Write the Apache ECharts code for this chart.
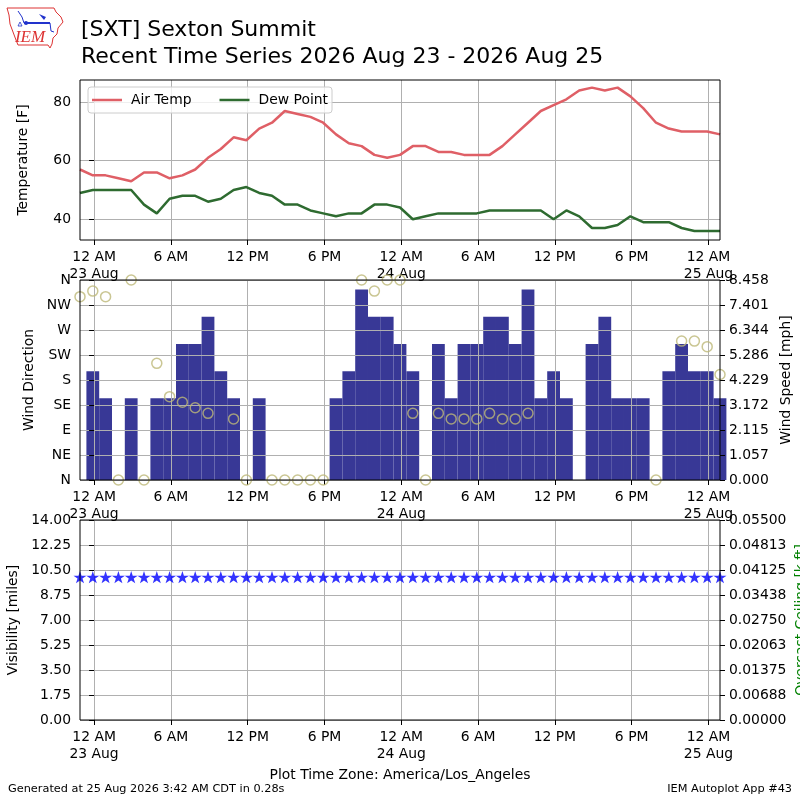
<!DOCTYPE html>
<html lang="en">
<head>
<meta charset="UTF-8">
<title>[SXT] Sexton Summit Recent Time Series</title>
<script src="https://cdn.jsdelivr.net/npm/echarts@6.0.0/dist/echarts.min.js"></script>
<style>
  html, body { margin: 0; padding: 0; background: #fff; }
  #main { width: 800px; height: 800px; }
</style>
</head>
<body>
<div id="main"></div>
<script>
// observation times, hours after 23 Aug 2026 00:00 (America/Los_Angeles)
const obsHours = [-1.1, -0.1, 0.9, 1.9, 2.9, 3.9, 4.9, 5.9, 6.9, 7.9,
  8.9, 9.9, 10.9, 11.9, 12.9, 13.9, 14.9, 15.9, 16.9, 17.9,
  18.9, 19.9, 20.9, 21.9, 22.9, 23.9, 24.9, 25.9, 26.9, 27.9,
  28.9, 29.9, 30.9, 31.9, 32.9, 33.9, 34.9, 35.9, 36.9, 37.9,
  38.9, 39.9, 40.9, 41.9, 42.9, 43.9, 44.9, 45.9, 46.9, 47.9, 48.9];

const airTemp = [57, 55, 55, 54, 53, 56, 56, 54, 55, 57,
  61, 64, 68, 67, 71, 73, 77, 76, 75, 73,
  69, 66, 65, 62, 61, 62, 65, 65, 63, 63,
  62, 62, 62, 65, 69, 73, 77, 79, 81, 84,
  85, 84, 85, 82, 78, 73, 71, 70, 70, 70, 69];

const dewPoint = [49, 50, 50, 50, 50, 45, 42, 47, 48, 48,
  46, 47, 50, 51, 49, 48, 45, 45, 43, 42,
  41, 42, 42, 45, 45, 44, 40, 41, 42, 42,
  42, 42, 43, 43, 43, 43, 43, 40, 43, 41,
  37, 37, 38, 41, 39, 39, 39, 37, 36, 36, 36];

// degrees, null = variable / missing
const windDir = [330, 340, 330, 0, 360, 0, 210, 150, 140, 130,
  120, null, 110, 0, null, 0, 0, 0, 0, 0,
  null, null, 360, 340, 360, 360, 120, 0, 120, 110,
  110, 110, 120, 110, 110, 120, null, null, null, null,
  null, null, null, null, null, 0, null, 250, 250, 240, 190];

// mph
const windSpeed = [0, 4.603, 3.452, 0, 3.452, 0, 3.452, 3.452, 5.754, 5.754,
  6.905, 4.603, 3.452, 0, 3.452, 0, 0, 0, 0, 0,
  3.452, 4.603, 8.055, 6.905, 6.905, 5.754, 4.603, 0, 5.754, 3.452,
  5.754, 5.754, 6.905, 6.905, 5.754, 8.055, 3.452, 4.603, 3.452, 0,
  5.754, 6.905, 3.452, 3.452, 3.452, 0, 4.603, 5.754, 4.603, 4.603, 3.452];

// miles
const visibility = [10, 10, 10, 10, 10, 10, 10, 10, 10, 10,
  10, 10, 10, 10, 10, 10, 10, 10, 10, 10,
  10, 10, 10, 10, 10, 10, 10, 10, 10, 10,
  10, 10, 10, 10, 10, 10, 10, 10, 10, 10,
  10, 10, 10, 10, 10, 10, 10, 10, 10, 10, 10];

const xTickHours = [0, 6, 12, 18, 24, 30, 36, 42, 48];
const xTickLabels = ['12 AM\n23 Aug', '6 AM', '12 PM', '6 PM', '12 AM\n24 Aug',
  '6 AM', '12 PM', '6 PM', '12 AM\n25 Aug'];
const tempTicks = [40, 60, 80];
const dirTickLabels = ['N', 'NE', 'E', 'SE', 'S', 'SW', 'W', 'NW', 'N'];
const speedTickLabels = ['0.000', '1.057', '2.115', '3.172', '4.229', '5.286', '6.344', '7.401', '8.458'];
const ceilTickLabels = ['0.00000', '0.00688', '0.01375', '0.02063', '0.02750',
  '0.03438', '0.04125', '0.04813', '0.05500'];

const FONT = 'DejaVu Sans';
const FS = 13.9;
const starPath = 'path://M50,0L61.23,34.55L97.55,34.55L68.17,55.9L79.39,90.45L50,69.1L20.61,90.45L31.83,55.9L2.45,34.55L38.77,34.55Z';

const xMin = obsHours[0];
const xMax = obsHours[obsHours.length - 1];

function pairs(values) {
  const out = [];
  obsHours.forEach((t, i) => {
    if (values[i] !== null) out.push([t, values[i]]);
  });
  return out;
}

function timeAxis(gridIndex) {
  return {
    type: 'value', gridIndex: gridIndex, min: xMin, max: xMax, z: 3,
    axisLine: { show: false },
    axisTick: { show: true, length: 5, lineStyle: { color: '#000' }, customValues: xTickHours },
    axisLabel: {
      customValues: xTickHours, margin: 9, color: '#000', fontFamily: FONT, fontSize: FS, lineHeight: 17,
      formatter: v => xTickLabels[Math.round(v / 6)]
    },
    splitLine: { show: true, lineStyle: { color: '#b0b0b0', width: 1 } }
  };
}

function valueAxis(opts) {
  return Object.assign({
    type: 'value', z: 3,
    axisLine: { show: false },
    axisTick: { show: true, length: 5, lineStyle: { color: '#000' } },
    nameLocation: 'middle', nameRotate: 90,
    nameTextStyle: { color: '#000', fontFamily: FONT, fontSize: FS },
    splitLine: { show: true, lineStyle: { color: '#b0b0b0', width: 1 } }
  }, opts, {
    axisLabel: Object.assign({ color: '#000', fontFamily: FONT, fontSize: FS, margin: 9 }, opts.axisLabel || {})
  });
}

const gridBase = { left: 80, right: 80, show: true, borderColor: '#000', borderWidth: 1, z: 5,
  backgroundColor: 'rgba(0,0,0,0)', outerBoundsMode: 'none', containLabel: false };

const chart = echarts.init(document.getElementById('main'), null, { renderer: 'canvas' });

const option = {
  animation: false,
  backgroundColor: '#fff',
  textStyle: { fontFamily: FONT },
  title: {
    text: '[SXT] Sexton Summit\nRecent Time Series 2026 Aug 23 - 2026 Aug 25',
    left: 81, top: 16.5, padding: 0,
    textStyle: { fontFamily: FONT, fontSize: 22, fontWeight: 'normal', lineHeight: 27, color: '#000' }
  },
  legend: {
    data: ['Air Temp', 'Dew Point'],
    left: 88, top: 87, icon: 'rect', itemWidth: 30, itemHeight: 2.5, itemGap: 28,
    padding: [6, 4, 6, 4],
    backgroundColor: 'rgba(255,255,255,0.8)', borderColor: '#cccccc', borderWidth: 1, borderRadius: 3,
    textStyle: { fontFamily: FONT, fontSize: FS, color: '#000', padding: [0, 0, 0, 4] }
  },
  grid: [
    Object.assign({ top: 80, height: 160 }, gridBase),
    Object.assign({ top: 280, height: 200 }, gridBase),
    Object.assign({ top: 520, height: 200 }, gridBase)
  ],
  xAxis: [timeAxis(0), timeAxis(1), timeAxis(2)],
  yAxis: [
    valueAxis({
      gridIndex: 0, position: 'left', min: 32.9, max: 87.6,
      name: 'Temperature [F]', nameGap: 50,
      axisTick: { show: true, length: 5, lineStyle: { color: '#000' }, customValues: tempTicks },
      axisLabel: { customValues: tempTicks }
    }),
    valueAxis({
      gridIndex: 1, position: 'left', min: 0, max: 360, interval: 45,
      name: 'Wind Direction', nameGap: 35,
      axisLabel: { formatter: v => dirTickLabels[Math.round(v / 45)] }
    }),
    valueAxis({
      gridIndex: 1, position: 'right', min: 0, max: 8.458, interval: 1.05725,
      name: 'Wind Speed [mph]', nameGap: 52,
      splitLine: { show: false },
      axisLabel: { formatter: v => speedTickLabels[Math.round(v / 1.05725)] }
    }),
    valueAxis({
      gridIndex: 2, position: 'left', min: 0, max: 14, interval: 1.75,
      name: 'Visibility [miles]', nameGap: 51,
      axisLabel: { formatter: v => v.toFixed(2) }
    }),
    valueAxis({
      gridIndex: 2, position: 'right', min: 0, max: 0.055, interval: 0.006875,
      splitLine: { show: false },
      axisLabel: { formatter: v => ceilTickLabels[Math.round(v / 0.006875)] }
    })
  ],
  series: [
    {
      name: 'Air Temp', type: 'line', xAxisIndex: 0, yAxisIndex: 0,
      data: pairs(airTemp), showSymbol: false, color: '#df5f66',
      lineStyle: { width: 2.5 }, z: 4
    },
    {
      name: 'Dew Point', type: 'line', xAxisIndex: 0, yAxisIndex: 0,
      data: pairs(dewPoint), showSymbol: false, color: '#2e6b30',
      lineStyle: { width: 2.5 }, z: 4
    },
    {
      name: 'Wind Speed', type: 'bar', xAxisIndex: 1, yAxisIndex: 2,
      data: pairs(windSpeed), barWidth: 12.79, clip: true,
      itemStyle: { color: '#383896' }, z: 1
    },
    {
      name: 'Wind Direction', type: 'scatter', xAxisIndex: 1, yAxisIndex: 1,
      data: pairs(windDir), symbol: 'circle', symbolSize: 10, clip: false,
      itemStyle: { color: 'rgba(0,0,0,0)', borderColor: '#bdb878', borderWidth: 1.5 }, z: 4
    },
    {
      name: 'Visibility', type: 'scatter', xAxisIndex: 2, yAxisIndex: 3,
      data: pairs(visibility), symbol: starPath, symbolSize: [13, 12.4], clip: true,
      itemStyle: { color: '#0000ff' }, z: 4
    }
  ],
  graphic: [
    // IEM logo
    {
      type: 'polygon', z: 10,
      shape: { points: [[7, 8], [54, 8], [56, 12], [61, 17], [63, 22], [58, 28], [57, 34], [53, 38],
        [52, 44], [50, 48], [48, 45], [18, 45], [16, 40], [13, 32], [10, 24], [9, 15]] },
      style: { fill: 'none', stroke: '#dd3333', lineWidth: 1 }
    },
    { type: 'polyline', z: 10, shape: { points: [[24, 23], [50, 23]] }, style: { stroke: '#2233cc', lineWidth: 2 } },
    { type: 'polyline', z: 10, shape: { points: [[18, 11], [22, 17], [24, 23]] }, style: { stroke: '#2233cc', lineWidth: 1 } },
    { type: 'polygon', z: 10, shape: { points: [[39, 14], [46, 17], [44, 20]] }, style: { fill: '#2233cc' } },
    { type: 'polyline', z: 10, shape: { points: [[50, 23], [51, 31], [54, 32]] }, style: { stroke: '#2233cc', lineWidth: 1 } },
    { type: 'circle', z: 10, shape: { cx: 26, cy: 23, r: 2 }, style: { fill: '#2233cc' } },
    { type: 'polygon', z: 10, shape: { points: [[18, 26], [20, 22], [22, 26]] }, style: { fill: 'none', stroke: '#2233cc', lineWidth: 0.8 } },
    {
      type: 'text', z: 10, x: 30, y: 46,
      style: { text: 'IEM', fontFamily: 'Liberation Serif', fontStyle: 'italic', fontSize: 17,
        fill: '#dd3333', align: 'center', verticalAlign: 'bottom' }
    },
    // right axis name of the ceiling axis, cut by the canvas edge
    {
      type: 'text', x: 801, y: 620, rotation: Math.PI / 2,
      style: { text: 'Overcast Ceiling [k ft]', fontFamily: FONT, fontSize: FS,
        fill: '#008000', align: 'center', verticalAlign: 'middle' }
    },
    // footer
    {
      type: 'text', x: 400, y: 775,
      style: { text: 'Plot Time Zone: America/Los_Angeles', fontFamily: FONT, fontSize: FS,
        fill: '#000', align: 'center', verticalAlign: 'middle' }
    },
    {
      type: 'text', x: 8, y: 789,
      style: { text: 'Generated at 25 Aug 2026 3:42 AM CDT in 0.28s', fontFamily: FONT, fontSize: 11.3,
        fill: '#000', align: 'left', verticalAlign: 'middle' }
    },
    {
      type: 'text', x: 792, y: 789,
      style: { text: 'IEM Autoplot App #43', fontFamily: FONT, fontSize: 11.3,
        fill: '#000', align: 'right', verticalAlign: 'middle' }
    }
  ]
};

chart.setOption(option);
</script>
</body>
</html>
